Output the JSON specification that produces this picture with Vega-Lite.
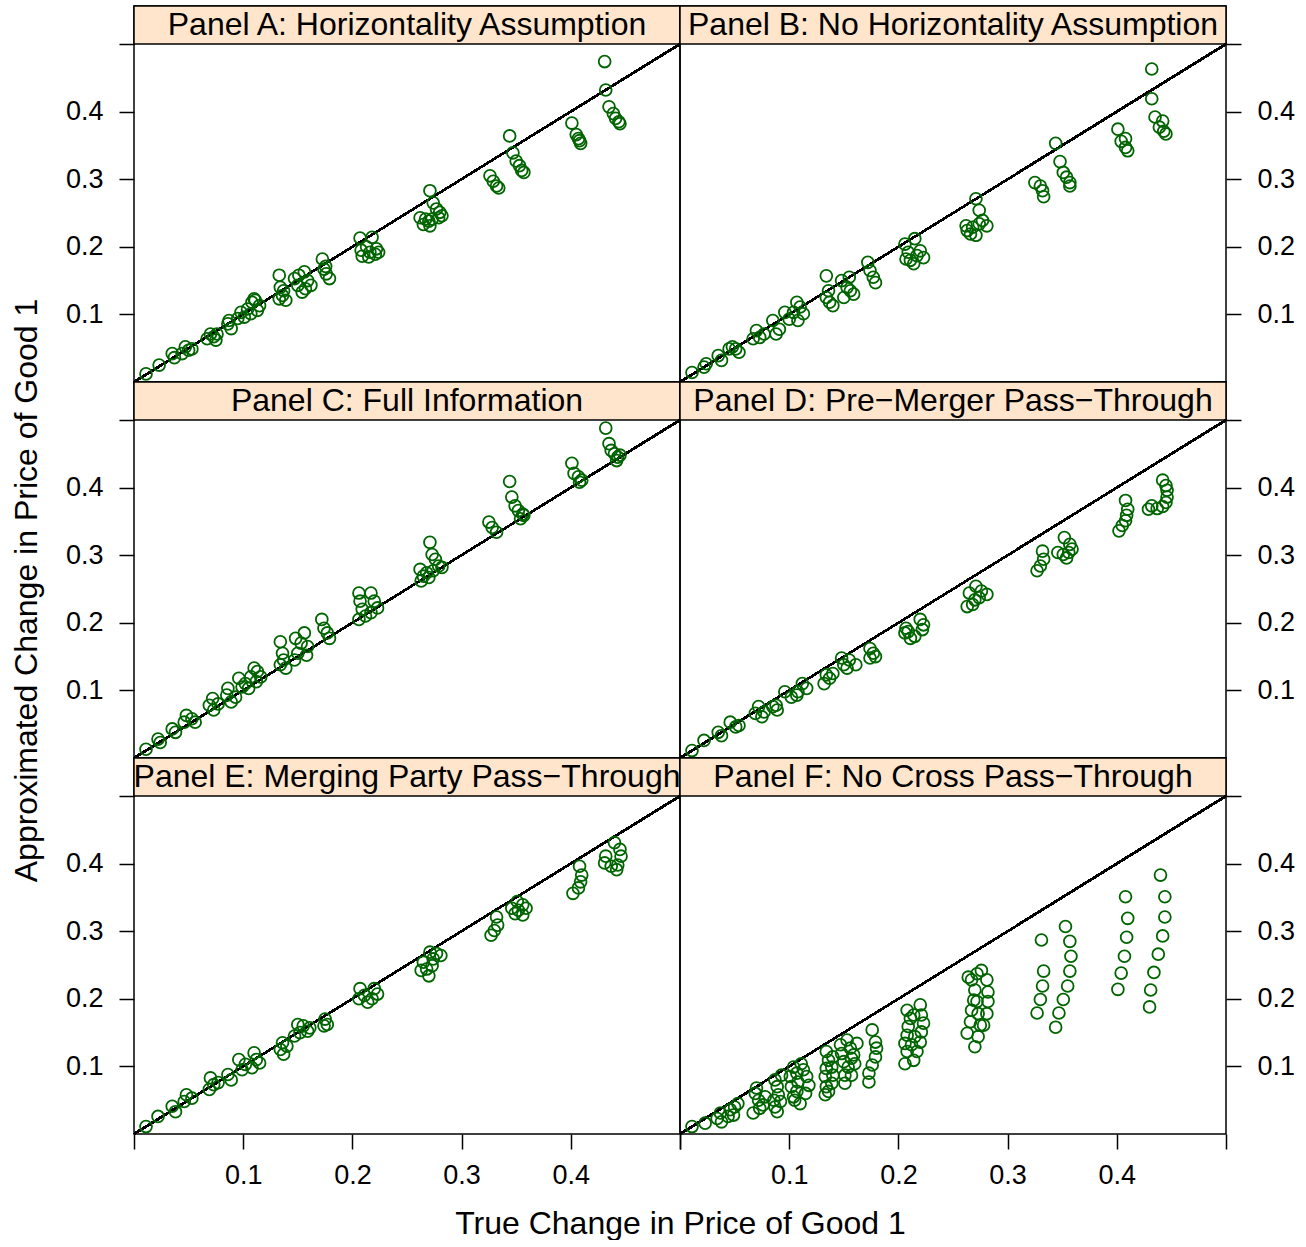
{
"$schema": "https://vega.github.io/schema/vega-lite/v6.json",
"padding": {"left": 9, "top": 4, "right": 5, "bottom": 0},
"background": "white",
"title": {"text": "True Change in Price of Good 1", "orient": "bottom", "anchor": "middle", "fontSize": 32, "font": "Liberation Sans", "fontWeight": "normal", "color": "black", "offset": 20, "dx": 28},
"config": {
 "font": "Liberation Sans",
 "view": {"stroke": "black", "strokeWidth": 1.5},
 "axis": {"domain": false, "grid": false, "tickColor": "black", "tickWidth": 1.5, "tickSize": 15, "labelFontSize": 27, "format": ".1f", "labelColor": "black", "labelFont": "Liberation Sans", "titleFont": "Liberation Sans", "titleFontWeight": "normal", "titleColor": "black", "labelPadding": 16, "labelFlush": false, "labelOverlap": false},
 "axisX": {"labelPadding": 13}
},
"datasets": {"pts": [
{"p":"A","x":0.431,"y":0.474},{"p":"A","x":0.432,"y":0.432},{"p":"A","x":0.435,"y":0.407},{"p":"A","x":0.439,"y":0.397},{"p":"A","x":0.441,"y":0.39},{"p":"A","x":0.444,"y":0.385},{"p":"A","x":0.445,"y":0.382},
{"p":"A","x":0.401,"y":0.383},{"p":"A","x":0.405,"y":0.366},{"p":"A","x":0.407,"y":0.36},{"p":"A","x":0.408,"y":0.357},{"p":"A","x":0.409,"y":0.353},
{"p":"A","x":0.344,"y":0.364},{"p":"A","x":0.347,"y":0.339},{"p":"A","x":0.35,"y":0.327},{"p":"A","x":0.353,"y":0.32},{"p":"A","x":0.355,"y":0.313},{"p":"A","x":0.357,"y":0.31},
{"p":"A","x":0.326,"y":0.305},{"p":"A","x":0.329,"y":0.297},{"p":"A","x":0.332,"y":0.29},{"p":"A","x":0.334,"y":0.287},
{"p":"A","x":0.271,"y":0.283},{"p":"A","x":0.274,"y":0.265},{"p":"A","x":0.277,"y":0.256},{"p":"A","x":0.28,"y":0.251},{"p":"A","x":0.282,"y":0.246},{"p":"A","x":0.262,"y":0.243},{"p":"A","x":0.267,"y":0.241},{"p":"A","x":0.27,"y":0.238},{"p":"A","x":0.273,"y":0.241},{"p":"A","x":0.265,"y":0.233},{"p":"A","x":0.271,"y":0.231},{"p":"A","x":0.279,"y":0.243},
{"p":"A","x":0.207,"y":0.213},{"p":"A","x":0.218,"y":0.214},{"p":"A","x":0.208,"y":0.195},{"p":"A","x":0.216,"y":0.192},{"p":"A","x":0.222,"y":0.197},{"p":"A","x":0.209,"y":0.186},{"p":"A","x":0.215,"y":0.185},{"p":"A","x":0.221,"y":0.189},{"p":"A","x":0.213,"y":0.2},{"p":"A","x":0.224,"y":0.192},
{"p":"A","x":0.1725,"y":0.182},{"p":"A","x":0.174,"y":0.167},{"p":"A","x":0.176,"y":0.16},{"p":"A","x":0.179,"y":0.153},{"p":"A","x":0.1755,"y":0.171},
{"p":"A","x":0.151,"y":0.158},{"p":"A","x":0.156,"y":0.163},{"p":"A","x":0.159,"y":0.15},{"p":"A","x":0.162,"y":0.143},{"p":"A","x":0.15,"y":0.143},{"p":"A","x":0.154,"y":0.133},{"p":"A","x":0.157,"y":0.138},{"p":"A","x":0.147,"y":0.153},
{"p":"A","x":0.133,"y":0.158},{"p":"A","x":0.134,"y":0.14},{"p":"A","x":0.136,"y":0.128},{"p":"A","x":0.139,"y":0.121},{"p":"A","x":0.133,"y":0.123},{"p":"A","x":0.137,"y":0.135},
{"p":"A","x":0.098,"y":0.103},{"p":"A","x":0.104,"y":0.108},{"p":"A","x":0.108,"y":0.118},{"p":"A","x":0.111,"y":0.121},{"p":"A","x":0.115,"y":0.113},{"p":"A","x":0.101,"y":0.096},{"p":"A","x":0.107,"y":0.101},{"p":"A","x":0.113,"y":0.106},{"p":"A","x":0.11,"y":0.123},{"p":"A","x":0.095,"y":0.094},
{"p":"A","x":0.087,"y":0.091},{"p":"A","x":0.089,"y":0.079},{"p":"A","x":0.086,"y":0.086},
{"p":"A","x":0.07,"y":0.071},{"p":"A","x":0.073,"y":0.067},{"p":"A","x":0.076,"y":0.071},{"p":"A","x":0.067,"y":0.064},{"p":"A","x":0.075,"y":0.062},
{"p":"A","x":0.047,"y":0.052},{"p":"A","x":0.05,"y":0.047},{"p":"A","x":0.053,"y":0.049},{"p":"A","x":0.044,"y":0.042},
{"p":"A","x":0.035,"y":0.042},{"p":"A","x":0.037,"y":0.036},{"p":"A","x":0.023,"y":0.025},{"p":"A","x":0.011,"y":0.012},

{"p":"B","x":0.432,"y":0.463},{"p":"B","x":0.432,"y":0.419},{"p":"B","x":0.435,"y":0.392},{"p":"B","x":0.442,"y":0.386},{"p":"B","x":0.439,"y":0.377},{"p":"B","x":0.443,"y":0.371},{"p":"B","x":0.445,"y":0.367},
{"p":"B","x":0.401,"y":0.374},{"p":"B","x":0.404,"y":0.356},{"p":"B","x":0.408,"y":0.36},{"p":"B","x":0.408,"y":0.347},{"p":"B","x":0.41,"y":0.342},
{"p":"B","x":0.344,"y":0.353},{"p":"B","x":0.348,"y":0.326},{"p":"B","x":0.351,"y":0.31},{"p":"B","x":0.354,"y":0.303},{"p":"B","x":0.357,"y":0.295},{"p":"B","x":0.357,"y":0.29},
{"p":"B","x":0.325,"y":0.295},{"p":"B","x":0.33,"y":0.29},{"p":"B","x":0.332,"y":0.283},{"p":"B","x":0.333,"y":0.274},
{"p":"B","x":0.271,"y":0.271},{"p":"B","x":0.274,"y":0.254},{"p":"B","x":0.262,"y":0.231},{"p":"B","x":0.268,"y":0.229},{"p":"B","x":0.274,"y":0.234},{"p":"B","x":0.281,"y":0.231},{"p":"B","x":0.266,"y":0.219},{"p":"B","x":0.271,"y":0.217},{"p":"B","x":0.277,"y":0.239},{"p":"B","x":0.263,"y":0.224},
{"p":"B","x":0.206,"y":0.204},{"p":"B","x":0.215,"y":0.212},{"p":"B","x":0.209,"y":0.192},{"p":"B","x":0.22,"y":0.194},{"p":"B","x":0.223,"y":0.184},{"p":"B","x":0.211,"y":0.18},{"p":"B","x":0.214,"y":0.175},{"p":"B","x":0.207,"y":0.182},{"p":"B","x":0.217,"y":0.187},
{"p":"B","x":0.172,"y":0.177},{"p":"B","x":0.174,"y":0.165},{"p":"B","x":0.177,"y":0.155},{"p":"B","x":0.179,"y":0.147},
{"p":"B","x":0.134,"y":0.157},{"p":"B","x":0.136,"y":0.135},{"p":"B","x":0.134,"y":0.125},{"p":"B","x":0.137,"y":0.118},{"p":"B","x":0.14,"y":0.113},
{"p":"B","x":0.148,"y":0.15},{"p":"B","x":0.155,"y":0.155},{"p":"B","x":0.153,"y":0.14},{"p":"B","x":0.159,"y":0.13},{"p":"B","x":0.15,"y":0.125},{"p":"B","x":0.156,"y":0.135},
{"p":"B","x":0.107,"y":0.118},{"p":"B","x":0.11,"y":0.111},{"p":"B","x":0.113,"y":0.101},{"p":"B","x":0.104,"y":0.103},{"p":"B","x":0.108,"y":0.091},{"p":"B","x":0.096,"y":0.103},{"p":"B","x":0.1,"y":0.093},
{"p":"B","x":0.085,"y":0.091},{"p":"B","x":0.091,"y":0.078},{"p":"B","x":0.088,"y":0.071},
{"p":"B","x":0.07,"y":0.076},{"p":"B","x":0.073,"y":0.066},{"p":"B","x":0.067,"y":0.064},{"p":"B","x":0.077,"y":0.071},
{"p":"B","x":0.048,"y":0.052},{"p":"B","x":0.051,"y":0.049},{"p":"B","x":0.054,"y":0.044},{"p":"B","x":0.045,"y":0.049},
{"p":"B","x":0.035,"y":0.039},{"p":"B","x":0.038,"y":0.032},{"p":"B","x":0.024,"y":0.027},{"p":"B","x":0.022,"y":0.022},{"p":"B","x":0.011,"y":0.014},

{"p":"C","x":0.432,"y":0.488},{"p":"C","x":0.435,"y":0.465},{"p":"C","x":0.437,"y":0.455},{"p":"C","x":0.44,"y":0.45},{"p":"C","x":0.443,"y":0.445},{"p":"C","x":0.445,"y":0.448},{"p":"C","x":0.442,"y":0.44},
{"p":"C","x":0.401,"y":0.436},{"p":"C","x":0.403,"y":0.421},{"p":"C","x":0.407,"y":0.416},{"p":"C","x":0.408,"y":0.408},{"p":"C","x":0.41,"y":0.411},
{"p":"C","x":0.344,"y":0.409},{"p":"C","x":0.346,"y":0.386},{"p":"C","x":0.349,"y":0.373},{"p":"C","x":0.352,"y":0.366},{"p":"C","x":0.356,"y":0.361},{"p":"C","x":0.354,"y":0.354},{"p":"C","x":0.357,"y":0.359},
{"p":"C","x":0.325,"y":0.349},{"p":"C","x":0.328,"y":0.341},{"p":"C","x":0.332,"y":0.334},
{"p":"C","x":0.271,"y":0.319},{"p":"C","x":0.273,"y":0.301},{"p":"C","x":0.276,"y":0.294},{"p":"C","x":0.279,"y":0.284},{"p":"C","x":0.282,"y":0.282},{"p":"C","x":0.262,"y":0.279},{"p":"C","x":0.265,"y":0.269},{"p":"C","x":0.268,"y":0.274},{"p":"C","x":0.274,"y":0.277},{"p":"C","x":0.263,"y":0.262},{"p":"C","x":0.27,"y":0.267},
{"p":"C","x":0.206,"y":0.244},{"p":"C","x":0.217,"y":0.244},{"p":"C","x":0.207,"y":0.232},{"p":"C","x":0.22,"y":0.232},{"p":"C","x":0.209,"y":0.22},{"p":"C","x":0.223,"y":0.222},{"p":"C","x":0.206,"y":0.205},{"p":"C","x":0.212,"y":0.21},{"p":"C","x":0.217,"y":0.215},
{"p":"C","x":0.172,"y":0.205},{"p":"C","x":0.174,"y":0.192},{"p":"C","x":0.177,"y":0.185},{"p":"C","x":0.179,"y":0.177},
{"p":"C","x":0.134,"y":0.172},{"p":"C","x":0.136,"y":0.155},{"p":"C","x":0.137,"y":0.145},{"p":"C","x":0.134,"y":0.138},{"p":"C","x":0.139,"y":0.133},
{"p":"C","x":0.148,"y":0.177},{"p":"C","x":0.156,"y":0.185},{"p":"C","x":0.153,"y":0.17},{"p":"C","x":0.159,"y":0.165},{"p":"C","x":0.15,"y":0.155},{"p":"C","x":0.158,"y":0.152},{"p":"C","x":0.147,"y":0.145},
{"p":"C","x":0.11,"y":0.133},{"p":"C","x":0.113,"y":0.128},{"p":"C","x":0.116,"y":0.12},{"p":"C","x":0.107,"y":0.12},{"p":"C","x":0.112,"y":0.113},{"p":"C","x":0.102,"y":0.11},{"p":"C","x":0.096,"y":0.118},{"p":"C","x":0.105,"y":0.103},{"p":"C","x":0.099,"y":0.105},
{"p":"C","x":0.086,"y":0.103},{"p":"C","x":0.085,"y":0.093},{"p":"C","x":0.093,"y":0.09},{"p":"C","x":0.089,"y":0.083},
{"p":"C","x":0.072,"y":0.088},{"p":"C","x":0.069,"y":0.078},{"p":"C","x":0.077,"y":0.08},{"p":"C","x":0.073,"y":0.071},
{"p":"C","x":0.048,"y":0.063},{"p":"C","x":0.053,"y":0.058},{"p":"C","x":0.046,"y":0.053},{"p":"C","x":0.056,"y":0.053},
{"p":"C","x":0.035,"y":0.043},{"p":"C","x":0.038,"y":0.038},{"p":"C","x":0.022,"y":0.028},{"p":"C","x":0.024,"y":0.023},{"p":"C","x":0.011,"y":0.013},

{"p":"D","x":0.442,"y":0.411},{"p":"D","x":0.445,"y":0.403},{"p":"D","x":0.446,"y":0.396},{"p":"D","x":0.446,"y":0.386},{"p":"D","x":0.445,"y":0.378},{"p":"D","x":0.442,"y":0.372},{"p":"D","x":0.437,"y":0.369},{"p":"D","x":0.432,"y":0.373},{"p":"D","x":0.429,"y":0.368},
{"p":"D","x":0.408,"y":0.381},{"p":"D","x":0.41,"y":0.368},{"p":"D","x":0.409,"y":0.359},{"p":"D","x":0.408,"y":0.351},{"p":"D","x":0.405,"y":0.344},{"p":"D","x":0.402,"y":0.336},
{"p":"D","x":0.332,"y":0.306},{"p":"D","x":0.333,"y":0.294},{"p":"D","x":0.33,"y":0.284},{"p":"D","x":0.327,"y":0.277},
{"p":"D","x":0.352,"y":0.326},{"p":"D","x":0.357,"y":0.316},{"p":"D","x":0.359,"y":0.309},{"p":"D","x":0.356,"y":0.304},{"p":"D","x":0.351,"y":0.301},{"p":"D","x":0.346,"y":0.304},{"p":"D","x":0.354,"y":0.296},
{"p":"D","x":0.271,"y":0.254},{"p":"D","x":0.276,"y":0.247},{"p":"D","x":0.281,"y":0.242},{"p":"D","x":0.265,"y":0.244},{"p":"D","x":0.27,"y":0.234},{"p":"D","x":0.263,"y":0.224},{"p":"D","x":0.268,"y":0.227},{"p":"D","x":0.274,"y":0.237},
{"p":"D","x":0.22,"y":0.205},{"p":"D","x":0.223,"y":0.197},{"p":"D","x":0.222,"y":0.19},{"p":"D","x":0.207,"y":0.192},{"p":"D","x":0.206,"y":0.185},{"p":"D","x":0.211,"y":0.177},{"p":"D","x":0.215,"y":0.18},{"p":"D","x":0.209,"y":0.187},
{"p":"D","x":0.174,"y":0.162},{"p":"D","x":0.177,"y":0.155},{"p":"D","x":0.174,"y":0.148},{"p":"D","x":0.179,"y":0.15},
{"p":"D","x":0.148,"y":0.148},{"p":"D","x":0.155,"y":0.145},{"p":"D","x":0.161,"y":0.138},{"p":"D","x":0.153,"y":0.133},{"p":"D","x":0.15,"y":0.138},
{"p":"D","x":0.134,"y":0.123},{"p":"D","x":0.137,"y":0.118},{"p":"D","x":0.14,"y":0.125},{"p":"D","x":0.132,"y":0.11},
{"p":"D","x":0.112,"y":0.11},{"p":"D","x":0.116,"y":0.103},{"p":"D","x":0.108,"y":0.098},{"p":"D","x":0.096,"y":0.098},{"p":"D","x":0.102,"y":0.09},{"p":"D","x":0.107,"y":0.093},
{"p":"D","x":0.088,"y":0.078},{"p":"D","x":0.089,"y":0.071},{"p":"D","x":0.085,"y":0.076},
{"p":"D","x":0.072,"y":0.076},{"p":"D","x":0.069,"y":0.066},{"p":"D","x":0.075,"y":0.061},{"p":"D","x":0.077,"y":0.068},
{"p":"D","x":0.046,"y":0.053},{"p":"D","x":0.051,"y":0.046},{"p":"D","x":0.054,"y":0.048},
{"p":"D","x":0.035,"y":0.038},{"p":"D","x":0.038,"y":0.033},{"p":"D","x":0.022,"y":0.026},{"p":"D","x":0.011,"y":0.011},

{"p":"E","x":0.44,"y":0.431},{"p":"E","x":0.445,"y":0.421},{"p":"E","x":0.446,"y":0.411},{"p":"E","x":0.432,"y":0.411},{"p":"E","x":0.431,"y":0.401},{"p":"E","x":0.437,"y":0.396},{"p":"E","x":0.443,"y":0.398},{"p":"E","x":0.442,"y":0.391},
{"p":"E","x":0.408,"y":0.396},{"p":"E","x":0.41,"y":0.383},{"p":"E","x":0.409,"y":0.373},{"p":"E","x":0.407,"y":0.364},{"p":"E","x":0.402,"y":0.356},
{"p":"E","x":0.332,"y":0.321},{"p":"E","x":0.333,"y":0.309},{"p":"E","x":0.33,"y":0.301},{"p":"E","x":0.327,"y":0.294},
{"p":"E","x":0.351,"y":0.344},{"p":"E","x":0.356,"y":0.339},{"p":"E","x":0.359,"y":0.334},{"p":"E","x":0.352,"y":0.331},{"p":"E","x":0.346,"y":0.334},{"p":"E","x":0.349,"y":0.326},{"p":"E","x":0.356,"y":0.324},
{"p":"E","x":0.271,"y":0.269},{"p":"E","x":0.277,"y":0.267},{"p":"E","x":0.281,"y":0.264},{"p":"E","x":0.265,"y":0.254},{"p":"E","x":0.268,"y":0.244},{"p":"E","x":0.273,"y":0.249},{"p":"E","x":0.27,"y":0.234},{"p":"E","x":0.263,"y":0.242},{"p":"E","x":0.274,"y":0.259},
{"p":"E","x":0.207,"y":0.215},{"p":"E","x":0.211,"y":0.205},{"p":"E","x":0.22,"y":0.215},{"p":"E","x":0.223,"y":0.207},{"p":"E","x":0.218,"y":0.2},{"p":"E","x":0.206,"y":0.2},{"p":"E","x":0.214,"y":0.195},
{"p":"E","x":0.175,"y":0.17},{"p":"E","x":0.177,"y":0.162},{"p":"E","x":0.174,"y":0.16},
{"p":"E","x":0.15,"y":0.162},{"p":"E","x":0.155,"y":0.16},{"p":"E","x":0.159,"y":0.152},{"p":"E","x":0.152,"y":0.15},{"p":"E","x":0.147,"y":0.145},{"p":"E","x":0.161,"y":0.157},
{"p":"E","x":0.136,"y":0.135},{"p":"E","x":0.134,"y":0.125},{"p":"E","x":0.137,"y":0.118},{"p":"E","x":0.14,"y":0.13},
{"p":"E","x":0.11,"y":0.12},{"p":"E","x":0.112,"y":0.11},{"p":"E","x":0.115,"y":0.105},{"p":"E","x":0.108,"y":0.098},{"p":"E","x":0.096,"y":0.11},{"p":"E","x":0.102,"y":0.103},{"p":"E","x":0.099,"y":0.095},
{"p":"E","x":0.089,"y":0.08},{"p":"E","x":0.086,"y":0.088},
{"p":"E","x":0.07,"y":0.083},{"p":"E","x":0.073,"y":0.073},{"p":"E","x":0.069,"y":0.066},{"p":"E","x":0.077,"y":0.076},
{"p":"E","x":0.048,"y":0.058},{"p":"E","x":0.053,"y":0.053},{"p":"E","x":0.046,"y":0.048},
{"p":"E","x":0.035,"y":0.041},{"p":"E","x":0.038,"y":0.033},{"p":"E","x":0.022,"y":0.026},{"p":"E","x":0.011,"y":0.011},

{"p":"F","x":0.011,"y":0.011},{"p":"F","x":0.023,"y":0.016},
{"p":"F","x":0.034,"y":0.023},{"p":"F","x":0.038,"y":0.018},{"p":"F","x":0.037,"y":0.031},
{"p":"F","x":0.046,"y":0.036},{"p":"F","x":0.05,"y":0.04},{"p":"F","x":0.053,"y":0.045},{"p":"F","x":0.049,"y":0.028},{"p":"F","x":0.044,"y":0.026},
{"p":"F","x":0.069,"y":0.06},{"p":"F","x":0.072,"y":0.05},{"p":"F","x":0.073,"y":0.038},{"p":"F","x":0.067,"y":0.031},{"p":"F","x":0.076,"y":0.043},{"p":"F","x":0.07,"y":0.068},{"p":"F","x":0.078,"y":0.055},
{"p":"F","x":0.087,"y":0.08},{"p":"F","x":0.089,"y":0.07},{"p":"F","x":0.09,"y":0.058},{"p":"F","x":0.087,"y":0.04},{"p":"F","x":0.092,"y":0.048},{"p":"F","x":0.086,"y":0.05},{"p":"F","x":0.093,"y":0.087},{"p":"F","x":0.089,"y":0.033},
{"p":"F","x":0.104,"y":0.099},{"p":"F","x":0.107,"y":0.09},{"p":"F","x":0.108,"y":0.077},{"p":"F","x":0.107,"y":0.063},{"p":"F","x":0.105,"y":0.05},{"p":"F","x":0.11,"y":0.045},{"p":"F","x":0.113,"y":0.095},{"p":"F","x":0.116,"y":0.085},{"p":"F","x":0.118,"y":0.072},{"p":"F","x":0.115,"y":0.06},{"p":"F","x":0.111,"y":0.104},{"p":"F","x":0.101,"y":0.085},{"p":"F","x":0.102,"y":0.07},{"p":"F","x":0.104,"y":0.055},
{"p":"F","x":0.134,"y":0.122},{"p":"F","x":0.136,"y":0.109},{"p":"F","x":0.134,"y":0.097},{"p":"F","x":0.133,"y":0.085},{"p":"F","x":0.134,"y":0.07},{"p":"F","x":0.133,"y":0.058},{"p":"F","x":0.14,"y":0.114},{"p":"F","x":0.139,"y":0.099},{"p":"F","x":0.14,"y":0.087},{"p":"F","x":0.139,"y":0.075},{"p":"F","x":0.136,"y":0.063},
{"p":"F","x":0.147,"y":0.132},{"p":"F","x":0.153,"y":0.139},{"p":"F","x":0.156,"y":0.127},{"p":"F","x":0.157,"y":0.112},{"p":"F","x":0.154,"y":0.099},{"p":"F","x":0.151,"y":0.087},{"p":"F","x":0.151,"y":0.075},{"p":"F","x":0.159,"y":0.117},{"p":"F","x":0.16,"y":0.104},{"p":"F","x":0.148,"y":0.119},{"p":"F","x":0.15,"y":0.107},{"p":"F","x":0.162,"y":0.134},{"p":"F","x":0.157,"y":0.087},
{"p":"F","x":0.176,"y":0.154},{"p":"F","x":0.179,"y":0.136},{"p":"F","x":0.18,"y":0.127},{"p":"F","x":0.179,"y":0.114},{"p":"F","x":0.176,"y":0.102},{"p":"F","x":0.173,"y":0.09},{"p":"F","x":0.173,"y":0.077},
{"p":"F","x":0.208,"y":0.183},{"p":"F","x":0.214,"y":0.176},{"p":"F","x":0.22,"y":0.191},{"p":"F","x":0.221,"y":0.176},{"p":"F","x":0.223,"y":0.164},{"p":"F","x":0.221,"y":0.151},{"p":"F","x":0.22,"y":0.136},{"p":"F","x":0.217,"y":0.122},{"p":"F","x":0.214,"y":0.109},{"p":"F","x":0.211,"y":0.171},{"p":"F","x":0.209,"y":0.159},{"p":"F","x":0.208,"y":0.146},{"p":"F","x":0.206,"y":0.134},{"p":"F","x":0.208,"y":0.122},{"p":"F","x":0.206,"y":0.104},{"p":"F","x":0.215,"y":0.144},{"p":"F","x":0.212,"y":0.132},
{"p":"F","x":0.264,"y":0.232},{"p":"F","x":0.272,"y":0.237},{"p":"F","x":0.276,"y":0.242},{"p":"F","x":0.281,"y":0.228},{"p":"F","x":0.282,"y":0.21},{"p":"F","x":0.282,"y":0.196},{"p":"F","x":0.281,"y":0.178},{"p":"F","x":0.278,"y":0.161},{"p":"F","x":0.273,"y":0.144},{"p":"F","x":0.27,"y":0.129},{"p":"F","x":0.263,"y":0.149},{"p":"F","x":0.266,"y":0.166},{"p":"F","x":0.267,"y":0.183},{"p":"F","x":0.269,"y":0.198},{"p":"F","x":0.27,"y":0.213},{"p":"F","x":0.267,"y":0.228},{"p":"F","x":0.273,"y":0.178},{"p":"F","x":0.275,"y":0.161},{"p":"F","x":0.272,"y":0.196},
{"p":"F","x":0.331,"y":0.287},{"p":"F","x":0.333,"y":0.241},{"p":"F","x":0.332,"y":0.219},{"p":"F","x":0.33,"y":0.199},{"p":"F","x":0.327,"y":0.179},
{"p":"F","x":0.353,"y":0.307},{"p":"F","x":0.357,"y":0.285},{"p":"F","x":0.358,"y":0.263},{"p":"F","x":0.357,"y":0.241},{"p":"F","x":0.355,"y":0.219},{"p":"F","x":0.351,"y":0.199},{"p":"F","x":0.347,"y":0.179},{"p":"F","x":0.344,"y":0.158},
{"p":"F","x":0.408,"y":0.351},{"p":"F","x":0.41,"y":0.319},{"p":"F","x":0.409,"y":0.291},{"p":"F","x":0.407,"y":0.263},{"p":"F","x":0.404,"y":0.238},{"p":"F","x":0.401,"y":0.214},
{"p":"F","x":0.44,"y":0.383},{"p":"F","x":0.444,"y":0.351},{"p":"F","x":0.444,"y":0.321},{"p":"F","x":0.442,"y":0.293},{"p":"F","x":0.438,"y":0.266},{"p":"F","x":0.434,"y":0.239},{"p":"F","x":0.431,"y":0.213},{"p":"F","x":0.43,"y":0.188}
]},
"columns": 2,
"spacing": 0,
"bounds": "flush",
"concat": [
 {"width": 546, "height": 376, "layer": [
  {"data": {"values": [{"label": "Panel A: Horizontality Assumption"}]}, "mark": {"type": "rect", "fill": "#FFE5CC", "stroke": "black", "strokeWidth": 1.5}, "encoding": {"x": {"datum": 0, "type": "quantitative", "scale": {"domain": [0, 0.5], "nice": false, "zero": false}, "axis": null}, "x2": {"datum": 0.5}, "y": {"datum": 0.5, "type": "quantitative", "scale": {"domain": [0, 0.556213], "nice": false, "zero": false}, "axis": {"orient": "left", "values": [0.1, 0.2, 0.3, 0.4, 0.5], "labelExpr": "datum.value > 0.45 ? '' : datum.label", "title": null}}, "y2": {"datum": 0.556213}}},
  {"data": {"values": [{"label": "Panel A: Horizontality Assumption"}]}, "mark": {"type": "text", "fontSize": 32, "font": "Liberation Sans", "color": "black"}, "encoding": {"x": {"datum": 0.25, "type": "quantitative", "axis": null}, "y": {"datum": 0.528107, "type": "quantitative", "axis": {"orient": "left", "values": [0.1, 0.2, 0.3, 0.4, 0.5], "labelExpr": "datum.value > 0.45 ? '' : datum.label", "title": null}}, "text": {"field": "label"}}},
  {"data": {"name": "pts"}, "mark": {"type": "rule", "color": "black", "strokeWidth": 1.5}, "encoding": {"x": {"datum": 0, "type": "quantitative", "axis": null}, "y": {"datum": 0, "type": "quantitative", "axis": {"orient": "left", "values": [0.1, 0.2, 0.3, 0.4, 0.5], "labelExpr": "datum.value > 0.45 ? '' : datum.label", "title": null}}, "x2": {"datum": 0.5}, "y2": {"datum": 0.5}}},
  {"data": {"name": "pts"}, "transform": [{"filter": "datum.p == 'A'"}], "mark": {"type": "point", "shape": "circle", "filled": false, "color": "#006400", "size": 140, "strokeWidth": 1.8, "opacity": 1}, "encoding": {"x": {"field": "x", "type": "quantitative", "scale": {"domain": [0, 0.5], "nice": false, "zero": false}, "axis": null}, "y": {"field": "y", "type": "quantitative", "scale": {"domain": [0, 0.556213], "nice": false, "zero": false}, "axis": {"orient": "left", "values": [0.1, 0.2, 0.3, 0.4, 0.5], "labelExpr": "datum.value > 0.45 ? '' : datum.label", "title": null}}}}
 ]},
 {"width": 546, "height": 376, "layer": [
  {"data": {"values": [{"label": "Panel B: No Horizontality Assumption"}]}, "mark": {"type": "rect", "fill": "#FFE5CC", "stroke": "black", "strokeWidth": 1.5}, "encoding": {"x": {"datum": 0, "type": "quantitative", "scale": {"domain": [0, 0.5], "nice": false, "zero": false}, "axis": null}, "x2": {"datum": 0.5}, "y": {"datum": 0.5, "type": "quantitative", "scale": {"domain": [0, 0.556213], "nice": false, "zero": false}, "axis": {"orient": "right", "values": [0.1, 0.2, 0.3, 0.4, 0.5], "labelExpr": "datum.value > 0.45 ? '' : datum.label", "title": null}}, "y2": {"datum": 0.556213}}},
  {"data": {"values": [{"label": "Panel B: No Horizontality Assumption"}]}, "mark": {"type": "text", "fontSize": 32, "font": "Liberation Sans", "color": "black"}, "encoding": {"x": {"datum": 0.25, "type": "quantitative", "axis": null}, "y": {"datum": 0.528107, "type": "quantitative", "axis": {"orient": "right", "values": [0.1, 0.2, 0.3, 0.4, 0.5], "labelExpr": "datum.value > 0.45 ? '' : datum.label", "title": null}}, "text": {"field": "label"}}},
  {"data": {"name": "pts"}, "mark": {"type": "rule", "color": "black", "strokeWidth": 1.5}, "encoding": {"x": {"datum": 0, "type": "quantitative", "axis": null}, "y": {"datum": 0, "type": "quantitative", "axis": {"orient": "right", "values": [0.1, 0.2, 0.3, 0.4, 0.5], "labelExpr": "datum.value > 0.45 ? '' : datum.label", "title": null}}, "x2": {"datum": 0.5}, "y2": {"datum": 0.5}}},
  {"data": {"name": "pts"}, "transform": [{"filter": "datum.p == 'B'"}], "mark": {"type": "point", "shape": "circle", "filled": false, "color": "#006400", "size": 140, "strokeWidth": 1.8, "opacity": 1}, "encoding": {"x": {"field": "x", "type": "quantitative", "scale": {"domain": [0, 0.5], "nice": false, "zero": false}, "axis": null}, "y": {"field": "y", "type": "quantitative", "scale": {"domain": [0, 0.556213], "nice": false, "zero": false}, "axis": {"orient": "right", "values": [0.1, 0.2, 0.3, 0.4, 0.5], "labelExpr": "datum.value > 0.45 ? '' : datum.label", "title": null}}}}
 ]},
 {"width": 546, "height": 376, "layer": [
  {"data": {"values": [{"label": "Panel C: Full Information"}]}, "mark": {"type": "rect", "fill": "#FFE5CC", "stroke": "black", "strokeWidth": 1.5}, "encoding": {"x": {"datum": 0, "type": "quantitative", "scale": {"domain": [0, 0.5], "nice": false, "zero": false}, "axis": null}, "x2": {"datum": 0.5}, "y": {"datum": 0.5, "type": "quantitative", "scale": {"domain": [0, 0.556213], "nice": false, "zero": false}, "axis": {"orient": "left", "values": [0.1, 0.2, 0.3, 0.4, 0.5], "labelExpr": "datum.value > 0.45 ? '' : datum.label", "title": "Approximated Change in Price of Good 1", "titleFontSize": 32, "titlePadding": 22, "titleY": 208}}, "y2": {"datum": 0.556213}}},
  {"data": {"values": [{"label": "Panel C: Full Information"}]}, "mark": {"type": "text", "fontSize": 32, "font": "Liberation Sans", "color": "black"}, "encoding": {"x": {"datum": 0.25, "type": "quantitative", "axis": null}, "y": {"datum": 0.528107, "type": "quantitative", "axis": {"orient": "left", "values": [0.1, 0.2, 0.3, 0.4, 0.5], "labelExpr": "datum.value > 0.45 ? '' : datum.label", "title": "Approximated Change in Price of Good 1", "titleFontSize": 32, "titlePadding": 22, "titleY": 208}}, "text": {"field": "label"}}},
  {"data": {"name": "pts"}, "mark": {"type": "rule", "color": "black", "strokeWidth": 1.5}, "encoding": {"x": {"datum": 0, "type": "quantitative", "axis": null}, "y": {"datum": 0, "type": "quantitative", "axis": {"orient": "left", "values": [0.1, 0.2, 0.3, 0.4, 0.5], "labelExpr": "datum.value > 0.45 ? '' : datum.label", "title": "Approximated Change in Price of Good 1", "titleFontSize": 32, "titlePadding": 22, "titleY": 208}}, "x2": {"datum": 0.5}, "y2": {"datum": 0.5}}},
  {"data": {"name": "pts"}, "transform": [{"filter": "datum.p == 'C'"}], "mark": {"type": "point", "shape": "circle", "filled": false, "color": "#006400", "size": 140, "strokeWidth": 1.8, "opacity": 1}, "encoding": {"x": {"field": "x", "type": "quantitative", "scale": {"domain": [0, 0.5], "nice": false, "zero": false}, "axis": null}, "y": {"field": "y", "type": "quantitative", "scale": {"domain": [0, 0.556213], "nice": false, "zero": false}, "axis": {"orient": "left", "values": [0.1, 0.2, 0.3, 0.4, 0.5], "labelExpr": "datum.value > 0.45 ? '' : datum.label", "title": "Approximated Change in Price of Good 1", "titleFontSize": 32, "titlePadding": 22, "titleY": 208}}}}
 ]},
 {"width": 546, "height": 376, "layer": [
  {"data": {"values": [{"label": "Panel D: Pre−Merger Pass−Through"}]}, "mark": {"type": "rect", "fill": "#FFE5CC", "stroke": "black", "strokeWidth": 1.5}, "encoding": {"x": {"datum": 0, "type": "quantitative", "scale": {"domain": [0, 0.5], "nice": false, "zero": false}, "axis": null}, "x2": {"datum": 0.5}, "y": {"datum": 0.5, "type": "quantitative", "scale": {"domain": [0, 0.556213], "nice": false, "zero": false}, "axis": {"orient": "right", "values": [0.1, 0.2, 0.3, 0.4, 0.5], "labelExpr": "datum.value > 0.45 ? '' : datum.label", "title": null}}, "y2": {"datum": 0.556213}}},
  {"data": {"values": [{"label": "Panel D: Pre−Merger Pass−Through"}]}, "mark": {"type": "text", "fontSize": 32, "font": "Liberation Sans", "color": "black"}, "encoding": {"x": {"datum": 0.25, "type": "quantitative", "axis": null}, "y": {"datum": 0.528107, "type": "quantitative", "axis": {"orient": "right", "values": [0.1, 0.2, 0.3, 0.4, 0.5], "labelExpr": "datum.value > 0.45 ? '' : datum.label", "title": null}}, "text": {"field": "label"}}},
  {"data": {"name": "pts"}, "mark": {"type": "rule", "color": "black", "strokeWidth": 1.5}, "encoding": {"x": {"datum": 0, "type": "quantitative", "axis": null}, "y": {"datum": 0, "type": "quantitative", "axis": {"orient": "right", "values": [0.1, 0.2, 0.3, 0.4, 0.5], "labelExpr": "datum.value > 0.45 ? '' : datum.label", "title": null}}, "x2": {"datum": 0.5}, "y2": {"datum": 0.5}}},
  {"data": {"name": "pts"}, "transform": [{"filter": "datum.p == 'D'"}], "mark": {"type": "point", "shape": "circle", "filled": false, "color": "#006400", "size": 140, "strokeWidth": 1.8, "opacity": 1}, "encoding": {"x": {"field": "x", "type": "quantitative", "scale": {"domain": [0, 0.5], "nice": false, "zero": false}, "axis": null}, "y": {"field": "y", "type": "quantitative", "scale": {"domain": [0, 0.556213], "nice": false, "zero": false}, "axis": {"orient": "right", "values": [0.1, 0.2, 0.3, 0.4, 0.5], "labelExpr": "datum.value > 0.45 ? '' : datum.label", "title": null}}}}
 ]},
 {"width": 546, "height": 376, "layer": [
  {"data": {"values": [{"label": "Panel E: Merging Party Pass−Through"}]}, "mark": {"type": "rect", "fill": "#FFE5CC", "stroke": "black", "strokeWidth": 1.5}, "encoding": {"x": {"datum": 0, "type": "quantitative", "scale": {"domain": [0, 0.5], "nice": false, "zero": false}, "axis": {"orient": "bottom", "values": [0, 0.1, 0.2, 0.3, 0.4, 0.5], "labelExpr": "(datum.value > 0.45 || datum.value < 0.05) ? '' : datum.label", "title": null}}, "x2": {"datum": 0.5}, "y": {"datum": 0.5, "type": "quantitative", "scale": {"domain": [0, 0.556213], "nice": false, "zero": false}, "axis": {"orient": "left", "values": [0.1, 0.2, 0.3, 0.4, 0.5], "labelExpr": "datum.value > 0.45 ? '' : datum.label", "title": null}}, "y2": {"datum": 0.556213}}},
  {"data": {"values": [{"label": "Panel E: Merging Party Pass−Through"}]}, "mark": {"type": "text", "fontSize": 32, "font": "Liberation Sans", "color": "black"}, "encoding": {"x": {"datum": 0.25, "type": "quantitative", "axis": {"orient": "bottom", "values": [0, 0.1, 0.2, 0.3, 0.4, 0.5], "labelExpr": "(datum.value > 0.45 || datum.value < 0.05) ? '' : datum.label", "title": null}}, "y": {"datum": 0.528107, "type": "quantitative", "axis": {"orient": "left", "values": [0.1, 0.2, 0.3, 0.4, 0.5], "labelExpr": "datum.value > 0.45 ? '' : datum.label", "title": null}}, "text": {"field": "label"}}},
  {"data": {"name": "pts"}, "mark": {"type": "rule", "color": "black", "strokeWidth": 1.5}, "encoding": {"x": {"datum": 0, "type": "quantitative", "axis": {"orient": "bottom", "values": [0, 0.1, 0.2, 0.3, 0.4, 0.5], "labelExpr": "(datum.value > 0.45 || datum.value < 0.05) ? '' : datum.label", "title": null}}, "y": {"datum": 0, "type": "quantitative", "axis": {"orient": "left", "values": [0.1, 0.2, 0.3, 0.4, 0.5], "labelExpr": "datum.value > 0.45 ? '' : datum.label", "title": null}}, "x2": {"datum": 0.5}, "y2": {"datum": 0.5}}},
  {"data": {"name": "pts"}, "transform": [{"filter": "datum.p == 'E'"}], "mark": {"type": "point", "shape": "circle", "filled": false, "color": "#006400", "size": 140, "strokeWidth": 1.8, "opacity": 1}, "encoding": {"x": {"field": "x", "type": "quantitative", "scale": {"domain": [0, 0.5], "nice": false, "zero": false}, "axis": {"orient": "bottom", "values": [0, 0.1, 0.2, 0.3, 0.4, 0.5], "labelExpr": "(datum.value > 0.45 || datum.value < 0.05) ? '' : datum.label", "title": null}}, "y": {"field": "y", "type": "quantitative", "scale": {"domain": [0, 0.556213], "nice": false, "zero": false}, "axis": {"orient": "left", "values": [0.1, 0.2, 0.3, 0.4, 0.5], "labelExpr": "datum.value > 0.45 ? '' : datum.label", "title": null}}}}
 ]},
 {"width": 546, "height": 376, "layer": [
  {"data": {"values": [{"label": "Panel F: No Cross Pass−Through"}]}, "mark": {"type": "rect", "fill": "#FFE5CC", "stroke": "black", "strokeWidth": 1.5}, "encoding": {"x": {"datum": 0, "type": "quantitative", "scale": {"domain": [0, 0.5], "nice": false, "zero": false}, "axis": {"orient": "bottom", "values": [0, 0.1, 0.2, 0.3, 0.4, 0.5], "labelExpr": "(datum.value > 0.45 || datum.value < 0.05) ? '' : datum.label", "title": null}}, "x2": {"datum": 0.5}, "y": {"datum": 0.5, "type": "quantitative", "scale": {"domain": [0, 0.556213], "nice": false, "zero": false}, "axis": {"orient": "right", "values": [0.1, 0.2, 0.3, 0.4, 0.5], "labelExpr": "datum.value > 0.45 ? '' : datum.label", "title": null}}, "y2": {"datum": 0.556213}}},
  {"data": {"values": [{"label": "Panel F: No Cross Pass−Through"}]}, "mark": {"type": "text", "fontSize": 32, "font": "Liberation Sans", "color": "black"}, "encoding": {"x": {"datum": 0.25, "type": "quantitative", "axis": {"orient": "bottom", "values": [0, 0.1, 0.2, 0.3, 0.4, 0.5], "labelExpr": "(datum.value > 0.45 || datum.value < 0.05) ? '' : datum.label", "title": null}}, "y": {"datum": 0.528107, "type": "quantitative", "axis": {"orient": "right", "values": [0.1, 0.2, 0.3, 0.4, 0.5], "labelExpr": "datum.value > 0.45 ? '' : datum.label", "title": null}}, "text": {"field": "label"}}},
  {"data": {"name": "pts"}, "mark": {"type": "rule", "color": "black", "strokeWidth": 1.5}, "encoding": {"x": {"datum": 0, "type": "quantitative", "axis": {"orient": "bottom", "values": [0, 0.1, 0.2, 0.3, 0.4, 0.5], "labelExpr": "(datum.value > 0.45 || datum.value < 0.05) ? '' : datum.label", "title": null}}, "y": {"datum": 0, "type": "quantitative", "axis": {"orient": "right", "values": [0.1, 0.2, 0.3, 0.4, 0.5], "labelExpr": "datum.value > 0.45 ? '' : datum.label", "title": null}}, "x2": {"datum": 0.5}, "y2": {"datum": 0.5}}},
  {"data": {"name": "pts"}, "transform": [{"filter": "datum.p == 'F'"}], "mark": {"type": "point", "shape": "circle", "filled": false, "color": "#006400", "size": 140, "strokeWidth": 1.8, "opacity": 1}, "encoding": {"x": {"field": "x", "type": "quantitative", "scale": {"domain": [0, 0.5], "nice": false, "zero": false}, "axis": {"orient": "bottom", "values": [0, 0.1, 0.2, 0.3, 0.4, 0.5], "labelExpr": "(datum.value > 0.45 || datum.value < 0.05) ? '' : datum.label", "title": null}}, "y": {"field": "y", "type": "quantitative", "scale": {"domain": [0, 0.556213], "nice": false, "zero": false}, "axis": {"orient": "right", "values": [0.1, 0.2, 0.3, 0.4, 0.5], "labelExpr": "datum.value > 0.45 ? '' : datum.label", "title": null}}}}
 ]}
]
}
